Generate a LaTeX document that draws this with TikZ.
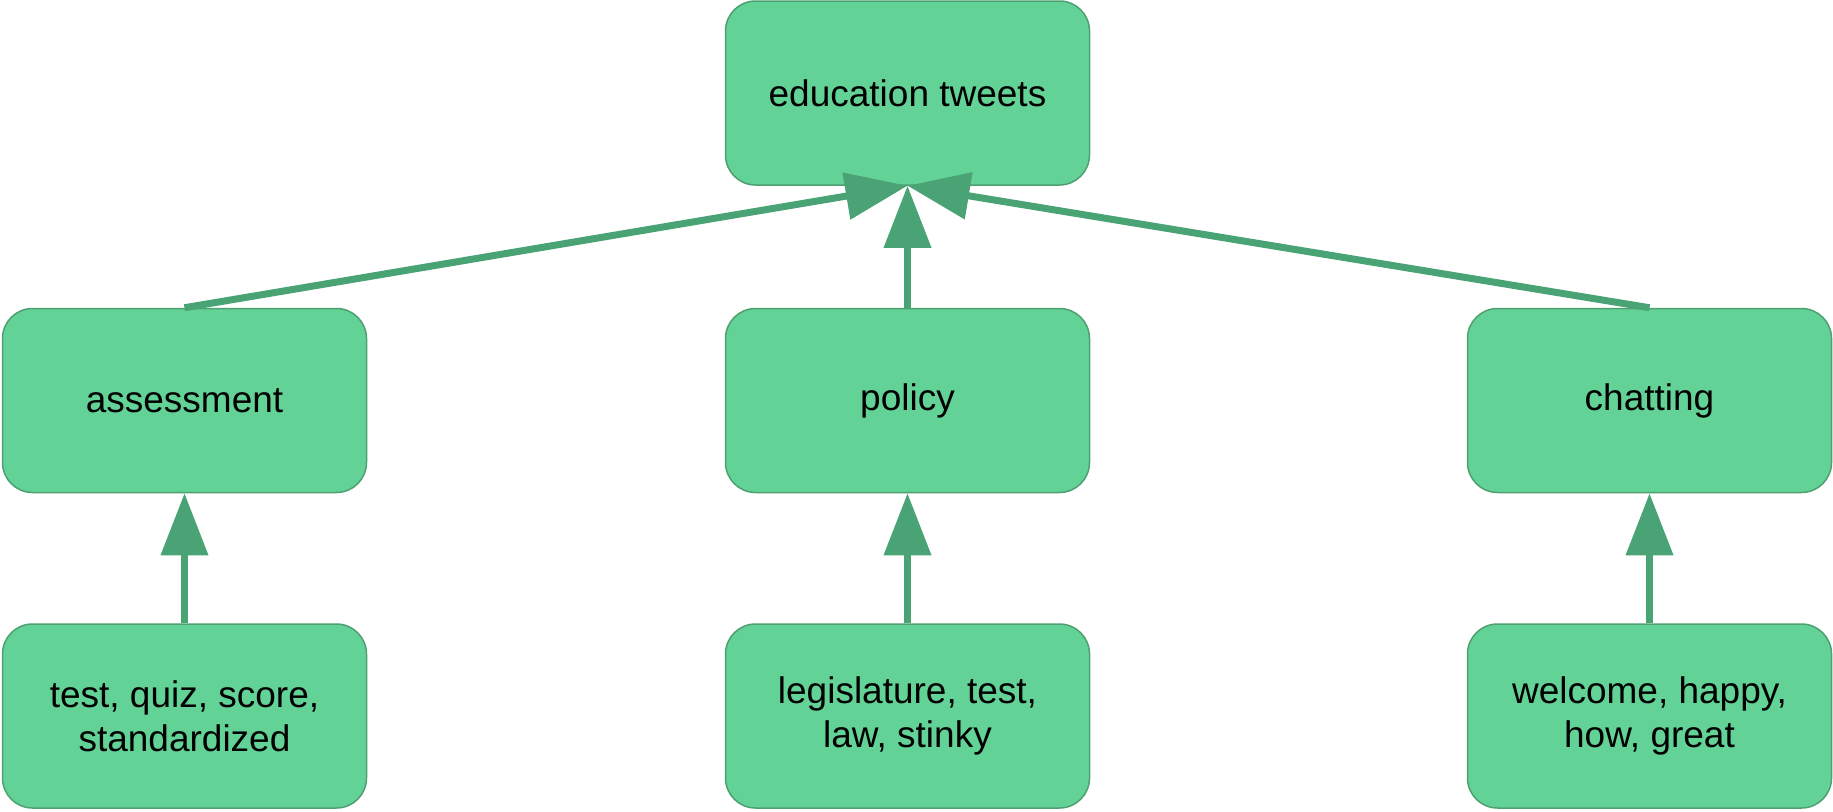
\documentclass[tikz,border=0pt]{standalone}
\usepackage{fontspec}
\setmainfont{Liberation Sans}
\usetikzlibrary{arrows.meta}
\definecolor{boxfill}{RGB}{99,210,151}
\definecolor{boxline}{RGB}{78,160,112}
\definecolor{arrowc}{RGB}{74,163,116}
\begin{document}
\begin{tikzpicture}[x=1pt,y=-1pt,
  box/.style={draw=boxline, line width=1.5pt, fill=boxfill, rounded corners=30pt,
    minimum width=364pt, minimum height=184pt, align=center, inner sep=0pt,
    font=\fontsize{37}{44}\selectfont},
  link/.style={draw=arrowc, line width=7pt, -{Triangle[length=62pt,width=46pt]}}]
\useasboundingbox (0,0) rectangle (1833,811);
\node[box] (top) at (907.5,93) {education tweets};
\node[box] (assess) at (184.5,400.5) {assessment};
\node[box] (policy) at (907.5,400.5) {policy};
\node[box] (chat) at (1649.5,400.5) {chatting};
\node[box] (w1) at (184.5,716) {test, quiz, score,\\standardized};
\node[box] (w2) at (907.5,716) {legislature, test,\\law, stinky};
\node[box] (w3) at (1649.5,716) {welcome, happy,\\how, great};
\draw[link] (assess.north) -- (top.south);
\draw[link] (chat.north) -- (top.south);
\draw[link] (policy.north) -- (top.south);
\draw[link] (w1.north) -- (assess.south);
\draw[link] (w2.north) -- (policy.south);
\draw[link] (w3.north) -- (chat.south);
\end{tikzpicture}
\end{document}
